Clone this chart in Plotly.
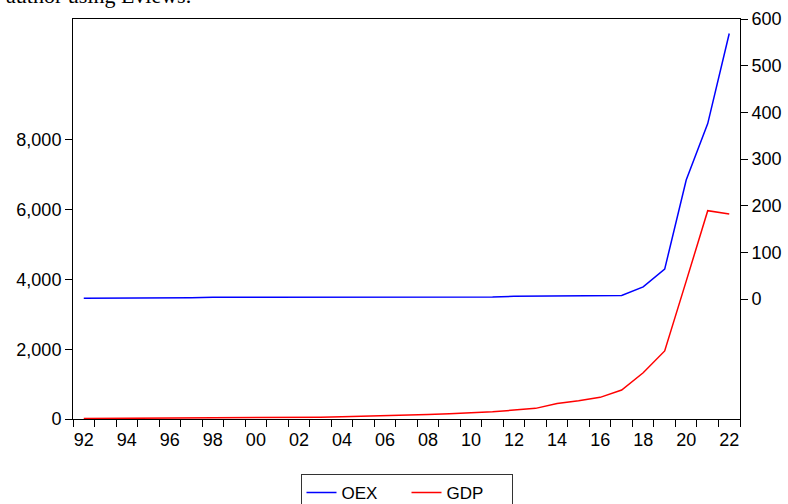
import plotly.graph_objects as go

# Annual series, 1992-2022
years = list(range(1992, 2023))

oex = [1.5, 1.5, 1.5, 2, 3, 3, 4, 4, 4, 4, 4, 4, 4, 4, 4, 4, 4, 4, 4,
       4.5, 6, 6, 7, 7, 7, 7.5, 26, 64, 255, 376, 569]

gdp = [12, 14, 16, 18, 20, 23, 26, 30, 34, 38, 43, 52, 62, 75, 90, 108,
       128, 150, 178, 205, 255, 305, 445, 520, 620, 830, 1325, 1950, 3950,
       5968, 5874]

x_label_years = list(range(1992, 2023, 2))
x_tick_text = [f"{y % 100:02d}" for y in x_label_years]
left_ticks = [0, 2000, 4000, 6000, 8000]
right_ticks = [0, 100, 200, 300, 400, 500, 600]

FONT = "Liberation Sans, Arial, sans-serif"

fig = go.Figure()
fig.add_trace(go.Scatter(x=years, y=oex, name="OEX", mode="lines",
                         line=dict(color="#0000FF", width=1.5), yaxis="y2"))
fig.add_trace(go.Scatter(x=years, y=gdp, name="GDP", mode="lines",
                         line=dict(color="#FF0000", width=1.5), yaxis="y"))

fig.update_layout(
    width=788, height=504,
    margin=dict(l=73, r=48, t=19, b=85, autoexpand=False),
    paper_bgcolor="white", plot_bgcolor="white",
    font=dict(family=FONT, size=18, color="black"),
    showlegend=True,
    legend=dict(orientation="h", x=0.5, xanchor="center",
                y=-0.1375, yanchor="top",
                bordercolor="#333333", borderwidth=1,
                font=dict(size=17, family=FONT),
                entrywidth=60, tracegroupgap=0),
    xaxis=dict(
        range=[1991.5, 2022.5],
        tickvals=x_label_years, ticktext=x_tick_text,
        ticks="", showgrid=False, zeroline=False,
        showline=True, linecolor="black", linewidth=1, mirror=True,
        ticklabelstandoff=4,
        minor=dict(tickvals=[y - 0.5 for y in years] + [2022.5],
                   ticks="outside", ticklen=7, tickcolor="black",
                   showgrid=False),
    ),
    yaxis=dict(
        range=[0, 11461],
        tickvals=left_ticks, tickformat=",d",
        ticks="outside", ticklen=7, tickcolor="black",
        showgrid=False, zeroline=False,
        showline=True, linecolor="black", linewidth=1,
    ),
    yaxis2=dict(
        range=[-257, 600], overlaying="y", side="right",
        tickvals=right_ticks,
        ticks="outside", ticklen=7, tickcolor="black",
        showgrid=False, zeroline=False,
        showline=True, linecolor="black", linewidth=1,
    ),
)

fig.add_annotation(
    text="author using Eviews.", xref="paper", yref="paper",
    x=(193 - 73) / 667, xanchor="right", y=1.022, yanchor="bottom",
    showarrow=False,
    font=dict(family="Liberation Serif, Times New Roman, serif", size=22,
              color="black"),
)

fig.write_html("out.html")
